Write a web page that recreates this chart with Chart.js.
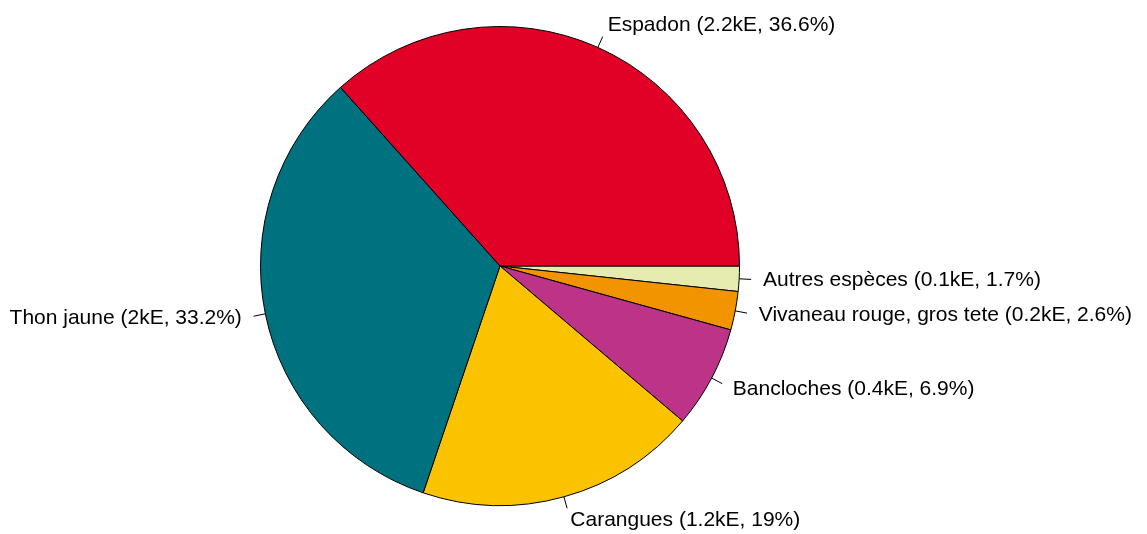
<!DOCTYPE html>
<html lang="fr">
<head>
    <meta charset="UTF-8">
    <title>Répartition des espèces</title>
    <script src="https://cdn.jsdelivr.net/npm/chart.js"></script>
    <style>
        html, body { margin: 0; padding: 0; background: #fff; }
        #wrap { width: 1147px; height: 534px; }
    </style>
</head>
<body>
    <div id="wrap">
        <canvas id="pieChart" width="1147" height="534"></canvas>
    </div>

    <script>
        // Données (ordre du graphique d'origine, sens anti-horaire depuis 3h)
        const especes = ['Espadon', 'Thon jaune', 'Carangues', 'Bancloches', 'Vivaneau rouge, gros tete', 'Autres espèces'];
        const effortKE = ['2.2', '2', '1.2', '0.4', '0.2', '0.1'];
        const pourcent = [36.6, 33.2, 19, 6.9, 2.6, 1.7];
        const couleurs = ['#E10026', '#00717F', '#FBC200', '#BC3388', '#F29400', '#E6EBAF'];

        const etiquettes = especes.map((e, i) => e + ' (' + effortKE[i] + 'kE, ' + pourcent[i] + '%)');

        // Chart.js tourne dans le sens horaire : on inverse l'ordre
        const labelsRev = etiquettes.slice().reverse();
        const dataRev = pourcent.slice().reverse();
        const colorsRev = couleurs.slice().reverse();

        // Étiquettes avec traits de rappel, façon pie() de R
        const leaderLabels = {
            id: 'leaderLabels',
            afterDatasetsDraw(chart) {
                const ctx = chart.ctx;
                const meta = chart.getDatasetMeta(0);
                ctx.save();
                ctx.font = '21px "Liberation Sans", Arial, sans-serif';
                ctx.fillStyle = '#000';
                ctx.strokeStyle = '#000';
                ctx.lineWidth = 1;
                ctx.textBaseline = 'middle';
                meta.data.forEach((arc, i) => {
                    const p = arc.getProps(['x', 'y', 'startAngle', 'endAngle', 'outerRadius'], true);
                    const mid = (p.startAngle + p.endAngle) / 2;
                    const c = Math.cos(mid), s = Math.sin(mid);
                    const r = p.outerRadius;
                    ctx.beginPath();
                    ctx.moveTo(p.x + c * r, p.y + s * r);
                    ctx.lineTo(p.x + c * r * 1.05, p.y + s * r * 1.05);
                    ctx.stroke();
                    ctx.textAlign = c < 0 ? 'right' : 'left';
                    ctx.fillText(labelsRev[i], p.x + c * r * 1.1, p.y + s * r * 1.1);
                });
                ctx.restore();
            }
        };

        new Chart(document.getElementById('pieChart').getContext('2d'), {
            type: 'pie',
            data: {
                labels: labelsRev,
                datasets: [{
                    data: dataRev,
                    backgroundColor: colorsRev,
                    borderColor: '#000',
                    borderWidth: 1
                }]
            },
            options: {
                responsive: false,
                animation: false,
                rotation: 90,
                layout: { padding: { left: 260, right: 407, top: 26, bottom: 28 } },
                plugins: {
                    legend: { display: false },
                    tooltip: { enabled: false }
                }
            },
            plugins: [leaderLabels]
        });
    </script>
</body>
</html>
